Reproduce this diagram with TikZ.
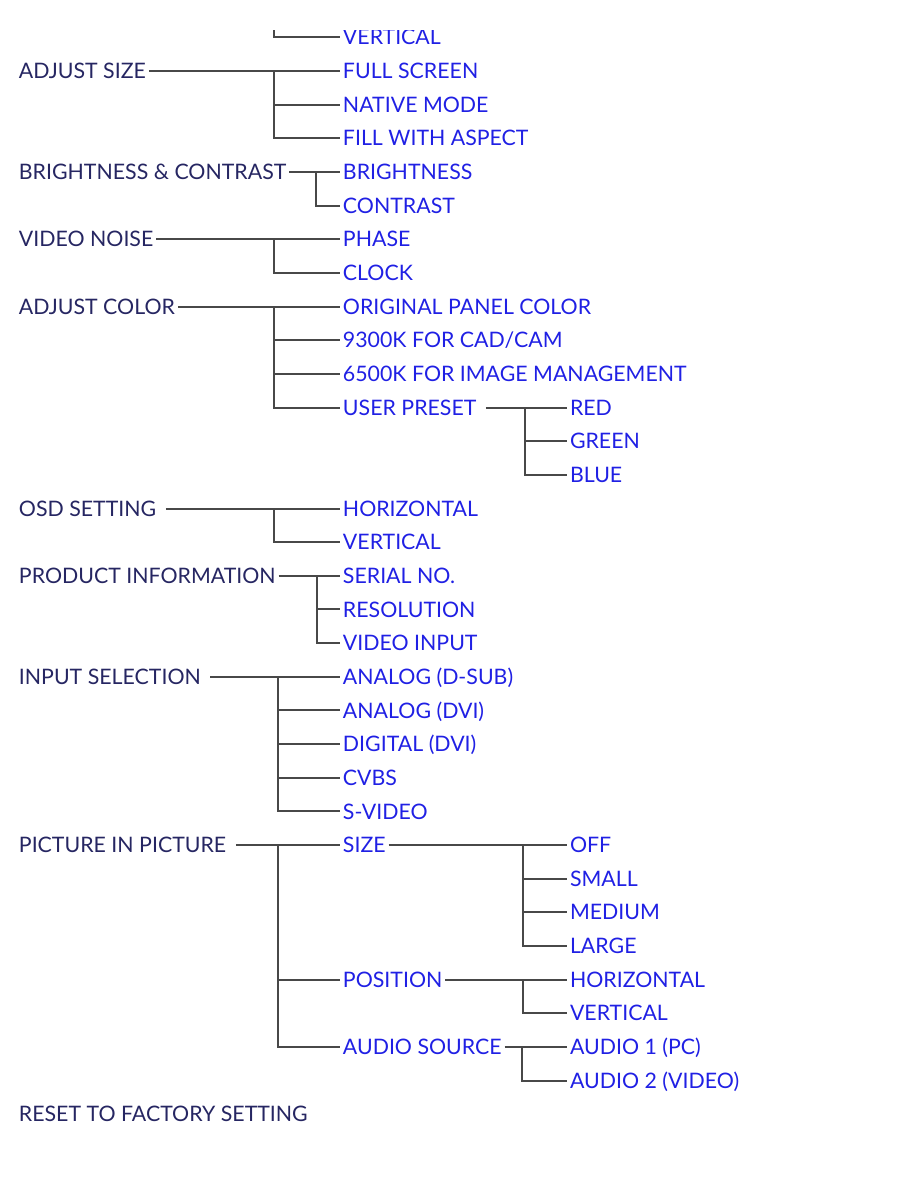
\documentclass[tikz,border=0pt]{standalone}
\usepackage{fontspec}
\setmainfont{Lato}
\usetikzlibrary{positioning}
\definecolor{menuNavy}{RGB}{38,38,98}
\definecolor{menuBlue}{RGB}{32,32,228}
\definecolor{menuGray}{RGB}{72,72,72}
\tikzset{
myMenu/.style={
	anchor=west, inner xsep=2pt, inner ysep=0pt,
	text height=11.4pt, text depth=0pt,
	text=menuNavy, font=\fontsize{16}{19}\selectfont
}
, mySub/.style={myMenu, text=menuBlue}
% link
, myLink/.style={draw=menuGray, line width=1.5pt}
, myLinkGap/.style={myLink, shorten <=5pt}
}

\begin{document}
\begin{tikzpicture}[x=0.75pt,y=-25.2375pt]
	\useasboundingbox (0,-1.11) rectangle (918,34.19);
	\clip (0,-0.19) rectangle (918,34.19);
	% main menu
	\node[myMenu] (AdjustSize) at (16,1) {ADJUST SIZE};
	\node[myMenu] (BrightCont) at (16,4) {BRIGHTNESS \& CONTRAST};
	\node[myMenu] (VideoNoise) at (16,6) {VIDEO NOISE};
	\node[myMenu] (AdjustColor) at (16,8) {ADJUST COLOR};
	\node[myMenu] (OsdSetting) at (16,14) {OSD SETTING};
	\node[myMenu] (ProductInfo) at (16,16) {PRODUCT INFORMATION};
	\node[myMenu] (InputSel) at (16,19) {INPUT SELECTION};
	\node[myMenu] (Pip) at (16,24) {PICTURE IN PICTURE};
	\node[myMenu] (Reset) at (16,32) {RESET TO FACTORY SETTING};
	% sub menu
	\node[mySub] (TopVertical) at (340,0) {VERTICAL};
	\node[mySub] (FullScreen) at (340,1) {FULL SCREEN};
	\node[mySub] (NativeMode) at (340,2) {NATIVE MODE};
	\node[mySub] (FillAspect) at (340,3) {FILL WITH ASPECT};
	\node[mySub] (Brightness) at (340,4) {BRIGHTNESS};
	\node[mySub] (Contrast) at (340,5) {CONTRAST};
	\node[mySub] (Phase) at (340,6) {PHASE};
	\node[mySub] (Clock) at (340,7) {CLOCK};
	\node[mySub] (OrigPanel) at (340,8) {ORIGINAL PANEL COLOR};
	\node[mySub] (ColorCad) at (340,9) {9300K FOR CAD/CAM};
	\node[mySub] (ColorImage) at (340,10) {6500K FOR IMAGE MANAGEMENT};
	\node[mySub] (UserPreset) at (340,11) {USER PRESET};
	\node[mySub] (OsdHoriz) at (340,14) {HORIZONTAL};
	\node[mySub] (OsdVert) at (340,15) {VERTICAL};
	\node[mySub] (SerialNo) at (340,16) {SERIAL NO.};
	\node[mySub] (Resolution) at (340,17) {RESOLUTION};
	\node[mySub] (VideoInput) at (340,18) {VIDEO INPUT};
	\node[mySub] (AnalogDsub) at (340,19) {ANALOG (D-SUB)};
	\node[mySub] (AnalogDvi) at (340,20) {ANALOG (DVI)};
	\node[mySub] (DigitalDvi) at (340,21) {DIGITAL (DVI)};
	\node[mySub] (Cvbs) at (340,22) {CVBS};
	\node[mySub] (SVideo) at (340,23) {S-VIDEO};
	\node[mySub] (PipSize) at (340,24) {SIZE};
	\node[mySub] (PipPosition) at (340,28) {POSITION};
	\node[mySub] (AudioSource) at (340,30) {AUDIO SOURCE};
	% third level
	\node[mySub] (Red) at (567,11) {RED};
	\node[mySub] (Green) at (567,12) {GREEN};
	\node[mySub] (Blue) at (567,13) {BLUE};
	\node[mySub] (Off) at (567,24) {OFF};
	\node[mySub] (Small) at (567,25) {SMALL};
	\node[mySub] (Medium) at (567,26) {MEDIUM};
	\node[mySub] (Large) at (567,27) {LARGE};
	\node[mySub] (PosHoriz) at (567,28) {HORIZONTAL};
	\node[mySub] (PosVert) at (567,29) {VERTICAL};
	\node[mySub] (Audio1) at (567,30) {AUDIO 1 (PC)};
	\node[mySub] (Audio2) at (567,31) {AUDIO 2 (VIDEO)};
	% junctions
	\coordinate (TopJ) at (274,-1);
	\coordinate (AdjustSizeJ) at (274,1);
	\coordinate (BrightContJ) at (316,4);
	\coordinate (VideoNoiseJ) at (274,6);
	\coordinate (AdjustColorJ) at (274,8);
	\coordinate (UserPresetJ) at (525,11);
	\coordinate (OsdJ) at (274,14);
	\coordinate (ProductInfoJ) at (317,16);
	\coordinate (InputSelJ) at (278,19);
	\coordinate (PipJ) at (278,24);
	\coordinate (SizeJ) at (523,24);
	\coordinate (PositionJ) at (523,28);
	\coordinate (AudioJ) at (522,30);
	% links
	\draw[myLink] (TopJ) |- (TopVertical.west);
	\draw[myLink] (AdjustSize) -- (FullScreen);
	\draw[myLink] (AdjustSizeJ) |- (NativeMode.west);
	\draw[myLink] (AdjustSizeJ) |- (FillAspect.west);
	\draw[myLink] (BrightCont) -- (Brightness);
	\draw[myLink] (BrightContJ) |- (Contrast.west);
	\draw[myLink] (VideoNoise) -- (Phase);
	\draw[myLink] (VideoNoiseJ) |- (Clock.west);
	\draw[myLink] (AdjustColor) -- (OrigPanel);
	\draw[myLink] (AdjustColorJ) |- (ColorCad.west);
	\draw[myLink] (AdjustColorJ) |- (ColorImage.west);
	\draw[myLink] (AdjustColorJ) |- (UserPreset.west);
	\draw[myLinkGap] (UserPreset) -- (Red);
	\draw[myLink] (UserPresetJ) |- (Green.west);
	\draw[myLink] (UserPresetJ) |- (Blue.west);
	\draw[myLinkGap] (OsdSetting) -- (OsdHoriz);
	\draw[myLink] (OsdJ) |- (OsdVert.west);
	\draw[myLink] (ProductInfo) -- (SerialNo);
	\draw[myLink] (ProductInfoJ) |- (Resolution.west);
	\draw[myLink] (ProductInfoJ) |- (VideoInput.west);
	\draw[myLinkGap] (InputSel) -- (AnalogDsub);
	\draw[myLink] (InputSelJ) |- (AnalogDvi.west);
	\draw[myLink] (InputSelJ) |- (DigitalDvi.west);
	\draw[myLink] (InputSelJ) |- (Cvbs.west);
	\draw[myLink] (InputSelJ) |- (SVideo.west);
	\draw[myLinkGap] (Pip) -- (PipSize);
	\draw[myLink] (PipJ) |- (PipPosition.west);
	\draw[myLink] (PipJ) |- (AudioSource.west);
	\draw[myLink] (PipSize) -- (Off);
	\draw[myLink] (SizeJ) |- (Small.west);
	\draw[myLink] (SizeJ) |- (Medium.west);
	\draw[myLink] (SizeJ) |- (Large.west);
	\draw[myLink] (PipPosition) -- (PosHoriz);
	\draw[myLink] (PositionJ) |- (PosVert.west);
	\draw[myLink] (AudioSource) -- (Audio1);
	\draw[myLink] (AudioJ) |- (Audio2.west);
\end{tikzpicture}
\end{document}
